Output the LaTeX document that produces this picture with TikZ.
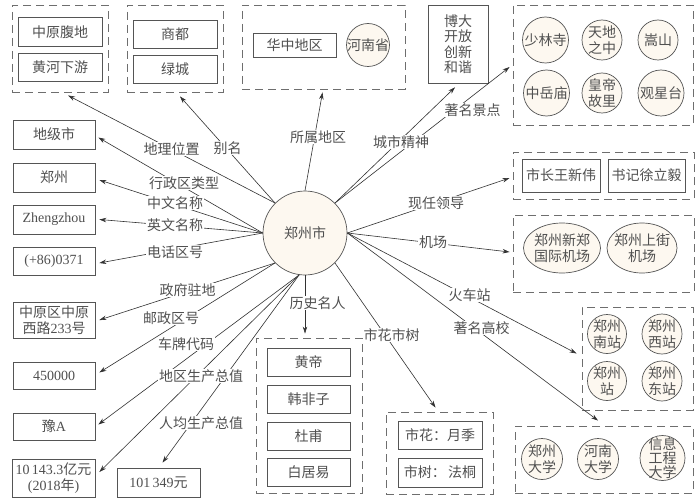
\documentclass[tikz,border=0pt]{standalone}
\usepackage{fontspec}
\setmainfont{Liberation Serif}
\newfontfamily\cjk{Noto Sans CJK SC}
\usetikzlibrary{arrows.meta,shapes.geometric}
\definecolor{circfill}{RGB}{253,248,240}
\definecolor{textc}{RGB}{80,80,80}
\definecolor{bordc}{RGB}{85,85,85}
\definecolor{dashc}{RGB}{110,110,110}
\definecolor{linec}{RGB}{50,50,50}
\newcommand\cjkf{\cjk\fontsize{14}{15.5}\selectfont}
\newcommand\lat[1]{{\rmfamily #1}}
\begin{document}
\begin{tikzpicture}[x=1pt,y=-1pt,
  box/.style={draw=bordc, line width=0.7pt, rectangle, inner sep=0pt, font=\cjkf, text=textc, align=center},
  grp/.style={draw=dashc, dash pattern=on 8pt off 5pt, line width=0.9pt, rectangle, inner sep=0pt},
  circ/.style={draw=bordc, line width=0.7pt, circle, fill=circfill, inner sep=0pt},
  ell/.style={draw=bordc, line width=0.7pt, ellipse, fill=circfill, inner sep=0pt},
  ctext/.style={font=\cjkf, text=textc, align=center, inner sep=0pt},
  lab/.style={fill=white, inner sep=0.6pt, font=\cjkf, text=textc},
  arr/.style={draw=linec, line width=0.6pt, -{Stealth[length=7pt,width=4.5pt]}}
]
\fill[white] (0,0) rectangle (700,500);
\useasboundingbox (0,0) rectangle (700,500);

% centre
\node[circ, minimum size=84, font=\cjkf, text=textc] (c) at (305,233) {郑州市};

% group A
\node[grp, minimum width=96, minimum height=87] (gA) at (60,48.5) {};
\node[box, minimum width=84, minimum height=29] (a1) at (60,32) {中原腹地};
\node[box, minimum width=84, minimum height=28] (a2) at (60,67) {黄河下游};
% group B
\node[grp, minimum width=96, minimum height=87] (gB) at (175,48.5) {};
\node[box, minimum width=84, minimum height=28] (bb1) at (175,34) {商都};
\node[box, minimum width=84, minimum height=28] (bb2) at (175,69) {绿城};
% group C
\node[grp, minimum width=163, minimum height=84] (gC) at (323.5,47) {};
\node[box, minimum width=83, minimum height=24] (cc1) at (294.5,45) {华中地区};
\node[circ, minimum size=43] (cc2) at (368,45) {};
\node[ctext] at (cc2) {河南省};
% box D
\node[box, minimum width=60, minimum height=78] (d) at (458,44) {博大\\开放\\创新\\和谐};
% group E scenic
\node[grp, minimum width=180, minimum height=120] (gE) at (603,65) {};
\node[circ, minimum size=46] (e1) at (545.5,40) {};
\node[ctext] at (e1) {少林寺};
\node[circ, minimum size=40] (e2) at (602,40) {};
\node[ctext] at (e2) {天地\\之中};
\node[circ, minimum size=40] (e3) at (658,40) {};
\node[ctext] at (e3) {嵩山};
\node[circ, minimum size=46] (e4) at (546.5,93) {};
\node[ctext] at (e4) {中岳庙};
\node[circ, minimum size=40] (e5) at (602,93) {};
\node[ctext] at (e5) {皇帝\\故里};
\node[circ, minimum size=46] (e6) at (661,93) {};
\node[ctext] at (e6) {观星台};

% leaders
\node[grp, minimum width=181, minimum height=47] (gL) at (603.5,175.5) {};
\node[box, minimum width=78, minimum height=33] (l1) at (561,175.5) {市长王新伟};
\node[box, minimum width=77, minimum height=33] (l2) at (646.5,175.5) {书记徐立毅};
% airports
\node[grp, minimum width=181, minimum height=77] (gAir) at (603.5,253.5) {};
\node[ell, minimum width=77, minimum height=50] (air1) at (562,248) {};
\node[ctext] at (air1) {郑州新郑\\国际机场};
\node[ell, minimum width=70, minimum height=50] (air2) at (642,248) {};
\node[ctext] at (air2) {郑州上街\\机场};
% stations
\node[grp, minimum width=111, minimum height=103] (gS) at (637.5,358.5) {};
\node[circ, minimum size=39] (s1) at (607,334) {};
\node[ctext] at (s1) {郑州\\南站};
\node[circ, minimum size=40] (s2) at (662,334) {};
\node[ctext] at (s2) {郑州\\西站};
\node[circ, minimum size=39] (s3) at (607,381) {};
\node[ctext] at (s3) {郑州\\站};
\node[circ, minimum size=40] (s4) at (662,381) {};
\node[ctext] at (s4) {郑州\\东站};
% universities
\node[grp, minimum width=178, minimum height=67] (gU) at (604,459.5) {};
\node[circ, minimum size=41] (u1) at (542,459) {};
\node[ctext] at (u1) {郑州\\大学};
\node[circ, minimum size=41] (u2) at (598,459) {};
\node[ctext] at (u2) {河南\\大学};
\node[circ, minimum size=45] (u3) at (662.5,458) {};
\node[ctext, font=\cjk\fontsize{14}{14}\selectfont] at (u3) {信息\\工程\\大学};

% history
\node[grp, minimum width=106, minimum height=155] (gH) at (309,415.5) {};
\node[box, minimum width=83, minimum height=28] (h1) at (308.5,362) {黄帝};
\node[box, minimum width=83, minimum height=28] (h2) at (308.5,399) {韩非子};
\node[box, minimum width=83, minimum height=28] (h3) at (308.5,436.5) {杜甫};
\node[box, minimum width=83, minimum height=28] (h4) at (308.5,472) {白居易};
% flower / tree
\node[grp, minimum width=107, minimum height=82] (gF) at (439.5,453) {};
\node[box, minimum width=84, minimum height=28] (f1) at (440,435.5) {市花：月季};
\node[box, minimum width=84, minimum height=29] (f2) at (440,472.5) {市树：\,法桐};

% left column
\node[box, minimum width=82, minimum height=29] (L1) at (54,134.5) {地级市};
\node[box, minimum width=82, minimum height=29] (L2) at (54,177.5) {郑州};
\node[box, minimum width=82, minimum height=29] (L3) at (54,219.5) {\lat{Zhengzhou}};
\node[box, minimum width=82, minimum height=28] (L4) at (54,261) {\lat{(+86)0371}};
\node[box, minimum width=82, minimum height=36] (L5) at (54,320) {中原区中原\\西路\lat{233}号};
\node[box, minimum width=82, minimum height=27] (L6) at (54,375.5) {\lat{450000}};
\node[box, minimum width=82, minimum height=27] (L7) at (54,426.5) {豫\lat{A}};
\node[box, minimum width=83, minimum height=38] (L8) at (53.5,478) {\lat{10\,143.3}亿元\\\lat{(2018}年\lat{)}};
\node[box, minimum width=83, minimum height=29] (L9) at (158.5,482.5) {\lat{101\,349}元};

% connectors
\draw[arr] (c.135) -- ([xshift=8pt,yshift=-3pt]gA.south);
\draw[arr] (c.135) -- ([xshift=5pt,yshift=-4pt]gB.south);
\draw[arr] (c.north) -- ([xshift=-1pt,yshift=-3pt]gC.south);
\draw[arr] (c.45) -- ([xshift=-3pt,yshift=-4pt]d.south);
\draw[arr] (c.45) -- ([xshift=-3pt,yshift=-2pt]gE.west);
\draw[arr] (c.east) -- ([xshift=-3pt,yshift=-2.5pt]gL.west);
\draw[arr] (c.east) -- ([xshift=-3pt,yshift=1.5pt]gAir.west);
\draw[arr] (c.east) -- ([xshift=-5pt,yshift=5pt]gS.west);
\draw[arr] (c.east) -- ([xshift=-6pt,yshift=5pt]gU.north);
\draw[arr] (c.-45) -- ([xshift=-4pt,yshift=4pt]gF.north);
\draw[arr, shorten >=4pt] (c.south) -- (c.south |- gH.north);
\draw[arr] (c.west) -- ([xshift=3pt,yshift=-3pt]L1.east);
\draw[arr] (c.west) -- ([xshift=4pt,yshift=-2.5pt]L2.east);
\draw[arr] (c.west) -- ([xshift=4pt]L3.east);
\draw[arr] (c.west) -- ([xshift=4pt,yshift=-2pt]L4.east);
\draw[arr] (c.225) -- ([xshift=4pt]L5.east);
\draw[arr] (c.225) -- ([xshift=4pt,yshift=3pt]L6.east);
\draw[arr] (c.262) -- ([xshift=3pt,yshift=2pt]L7.east);
\draw[arr] (c.262) -- ([xshift=4pt,yshift=6pt]L8.east);
\draw[arr] (c.262) -- ([xshift=4pt,yshift=5pt]L9.north);

% labels
\node[lab] (t1) at (171.5,149) {地理位置};
\node[lab] (t2) at (227.5,148) {别名};
\node[lab] (t3) at (318,137) {所属地区};
\node[lab] (t4) at (401,142) {城市精神};
\node[lab] (t5) at (472.5,110) {著名景点};
\node[lab] (t6) at (436,203) {现任领导};
\node[lab] (t7) at (433,242) {机场};
\node[lab] (t8) at (469.5,295) {火车站};
\node[lab] (t9) at (481.5,328) {著名高校};
\node[lab] (t10) at (391.5,335) {市花市树};
\node[lab] (t11) at (317.5,303) {历史名人};
\node[lab] (t12) at (184,183) {行政区类型};
\node[lab] (t13) at (175,203) {中文名称};
\node[lab] (t14) at (175,225) {英文名称};
\node[lab] (t15) at (175,252) {电话区号};
\node[lab] (t16) at (187.5,290) {政府驻地};
\node[lab] (t17) at (171,318) {邮政区号};
\node[lab] (t18) at (186,344) {车牌代码};
\node[lab] (t19) at (201,376) {地区生产总值};
\node[lab] (t20) at (201,423) {人均生产总值};
\end{tikzpicture}
\end{document}
